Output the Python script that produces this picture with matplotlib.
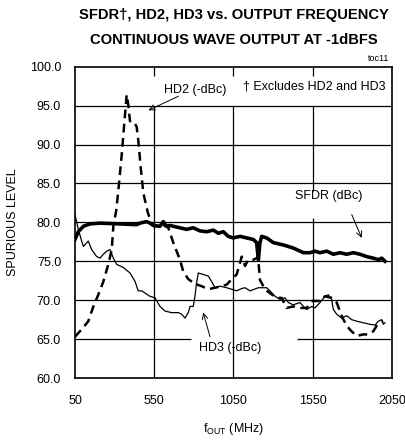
import matplotlib
matplotlib.use("Agg")
import matplotlib.pyplot as plt

plt.rcParams['font.family'] = ['Liberation Sans', 'DejaVu Sans']
plt.rcParams['mathtext.default'] = 'regular'

# SFDR (dBc)
sfdr_f = [50, 71, 103, 145, 208, 334, 439, 460, 502, 523, 544, 586, 607, 628, 649,
          712, 754, 796, 839, 881, 923, 954, 986, 1017, 1049, 1091, 1133, 1175, 1196,
          1207, 1217, 1228, 1259, 1301, 1364, 1427, 1491, 1533, 1564, 1596, 1638, 1680,
          1722, 1764, 1806, 1848, 1890, 1932, 1964, 1985, 2006]
sfdr_v = [77.8, 78.8, 79.5, 79.8, 79.9, 79.8, 79.7, 79.9, 80.1, 79.9, 79.6, 79.5, 80.1, 79.5, 79.6,
          79.3, 79.1, 79.3, 78.9, 78.8, 79.0, 78.6, 78.8, 78.2, 78.0, 78.2, 78.0, 77.8, 77.4,
          75.2, 77.4, 78.2, 78.0, 77.4, 77.1, 76.7, 76.1, 76.1, 76.3, 76.1, 76.3, 75.9,
          76.1, 75.9, 76.1, 75.9, 75.6, 75.4, 75.2, 75.4, 75.0]

# HD2 (-dBc)
hd2_f = [50, 103, 134, 166, 197, 229, 260, 282, 292, 310, 323, 344, 361, 376, 386, 397,
         418, 439, 449, 464, 481, 510, 534, 555, 605, 639, 670, 712, 733, 765, 807, 849,
         891, 933, 976, 1007, 1039, 1070, 1102, 1123, 1143, 1175, 1196, 1205, 1217, 1249,
         1280, 1322, 1354, 1385, 1427, 1470, 1512, 1543, 1596, 1627, 1669, 1701, 1732,
         1764, 1795, 1827, 1869, 1900, 1932, 1953, 1974, 1995]
hd2_v = [65.3, 66.5, 67.3, 69.2, 70.7, 72.4, 74.6, 76.5, 79.5, 81.5, 84.0, 88.5, 92.7, 96.4, 95.1, 93.0,
         93.0, 92.3, 90.6, 87.2, 83.8, 81.2, 79.9, 79.5, 79.7, 79.3, 77.4, 75.2, 73.7, 72.7, 72.1, 71.8,
         71.4, 71.6, 71.8, 72.0, 72.7, 73.3, 75.6, 74.4, 75.2, 75.2, 75.4, 75.6, 72.6, 71.4,
         70.9, 70.3, 70.3, 69.0, 69.2, 69.0, 69.0, 69.9, 69.9, 70.5, 70.3, 69.7, 68.0,
         66.7, 66.0, 65.4, 65.6, 65.6, 66.0, 66.7, 67.1, 67.3]

# HD3 (-dBc)
hd3_f = [50, 71, 92, 103, 134, 155, 187, 208, 229, 250, 271, 292, 313, 355, 397, 429, 449,
         471, 523, 555, 586, 618, 660, 702, 723, 744, 765, 776, 796, 807, 817, 828, 860,
         891, 912, 933, 965, 1007, 1039, 1070, 1102, 1123, 1154, 1207, 1259, 1280, 1312,
         1343, 1375, 1396, 1427, 1470, 1491, 1512, 1543, 1564, 1596, 1627, 1648, 1669,
         1680, 1701, 1732, 1764, 1795, 1827, 1869, 1911, 1943, 1964, 1985, 1995, 2006]
hd3_v = [81.0, 79.1, 77.6, 76.9, 77.6, 76.5, 75.6, 75.4, 75.9, 76.3, 76.5, 75.4, 74.6, 74.2, 73.5, 72.4, 71.2,
         71.2, 70.5, 70.3, 69.2, 68.6, 68.4, 68.4, 68.2, 67.7, 68.4, 69.2, 69.2, 70.5, 72.2, 73.5, 73.3,
         73.1, 72.4, 71.6, 71.8, 71.6, 71.4, 71.2, 71.5, 71.6, 71.2, 71.6, 71.6, 71.2, 70.5,
         70.1, 70.3, 69.7, 69.4, 69.7, 69.2, 68.8, 69.2, 69.0, 69.7, 70.5, 70.7, 70.1,
         68.8, 68.2, 67.7, 68.0, 67.5, 67.3, 67.1, 66.9, 66.8, 67.3, 67.5, 66.9, 67.1]

x_ticks = [50, 550, 1050, 1550, 2050]
y_ticks = [60, 65, 70, 75, 80, 85, 90, 95, 100]

fig = plt.figure(figsize=(4.06, 4.40), dpi=100)
ax = fig.add_axes([0.1847, 0.1409, 0.7808, 0.7075])
ax.set_xlim(50, 2050)
ax.set_ylim(60, 100)

# grid drawn by hand because the original has gaps behind the labels
grid_kw = dict(color='black', lw=0.9, zorder=1)
for y in [70, 75, 80, 85, 90, 95]:
    ax.hlines(y, 50, 2050, **grid_kw)
ax.hlines(65, 50, 782, **grid_kw)
ax.hlines(65, 1451, 2050, **grid_kw)
for x in [550, 1050]:
    ax.vlines(x, 60, 95, **grid_kw)
ax.vlines(1550, 60, 80.6, **grid_kw)
ax.vlines(1550, 84.0, 95, **grid_kw)
for x in [550, 1050, 1550]:
    ax.vlines(x, 98.8, 100, **grid_kw)

ax.plot(hd3_f, hd3_v, color='black', lw=0.9, zorder=3)
ax.plot(hd2_f, hd2_v, color='black', lw=1.8, ls=(0, (3.5, 2.2)), zorder=3)
ax.plot(sfdr_f, sfdr_v, color='black', lw=2.6, zorder=4)

for s in ax.spines.values():
    s.set_linewidth(1.2)

ax.set_xticks(x_ticks)
ax.set_yticks(y_ticks)
ax.set_yticklabels([f'{v:.1f}' for v in y_ticks])
ax.tick_params(length=0, labelsize=9, pad=10)
ax.tick_params(axis='x', pad=12)

ax.set_xlabel('f$_{OUT}$ (MHz)', fontsize=9, labelpad=10)
ax.set_ylabel('SPURIOUS LEVEL', fontsize=9, labelpad=8)

title_font = dict(ha='center', va='center', fontsize=10.6, fontweight='bold')
fig.text(0.577, 0.965, 'SFDR†, HD2, HD3 vs. OUTPUT FREQUENCY', **title_font)
fig.text(0.577, 0.908, 'CONTINUOUS WAVE OUTPUT AT -1dBFS', **title_font)
fig.text(0.96, 0.868, 'toc11', ha='right', va='center', fontsize=6.5)

arrow = dict(arrowstyle='->', color='black', lw=0.7, shrinkA=0, shrinkB=0)
ax.text(611, 97.0, 'HD2 (-dBc)', fontsize=9, ha='left', va='center')
ax.annotate('', xy=(513, 94.4), xytext=(702, 96.2), arrowprops=arrow)
ax.text(1110, 97.4, '† Excludes HD2 and HD3', fontsize=9, ha='left', va='center')
ax.text(1653, 83.4, 'SFDR (dBc)', fontsize=9, ha='center', va='center')
ax.annotate('', xy=(1859, 78.0), xytext=(1796, 81.0), arrowprops=arrow)
ax.text(1028, 63.9, 'HD3 (-dBc)', fontsize=9, ha='center', va='center')
ax.annotate('', xy=(859, 68.4), xytext=(902, 65.3), arrowprops=arrow)

fig.savefig('out.png', dpi=100)
